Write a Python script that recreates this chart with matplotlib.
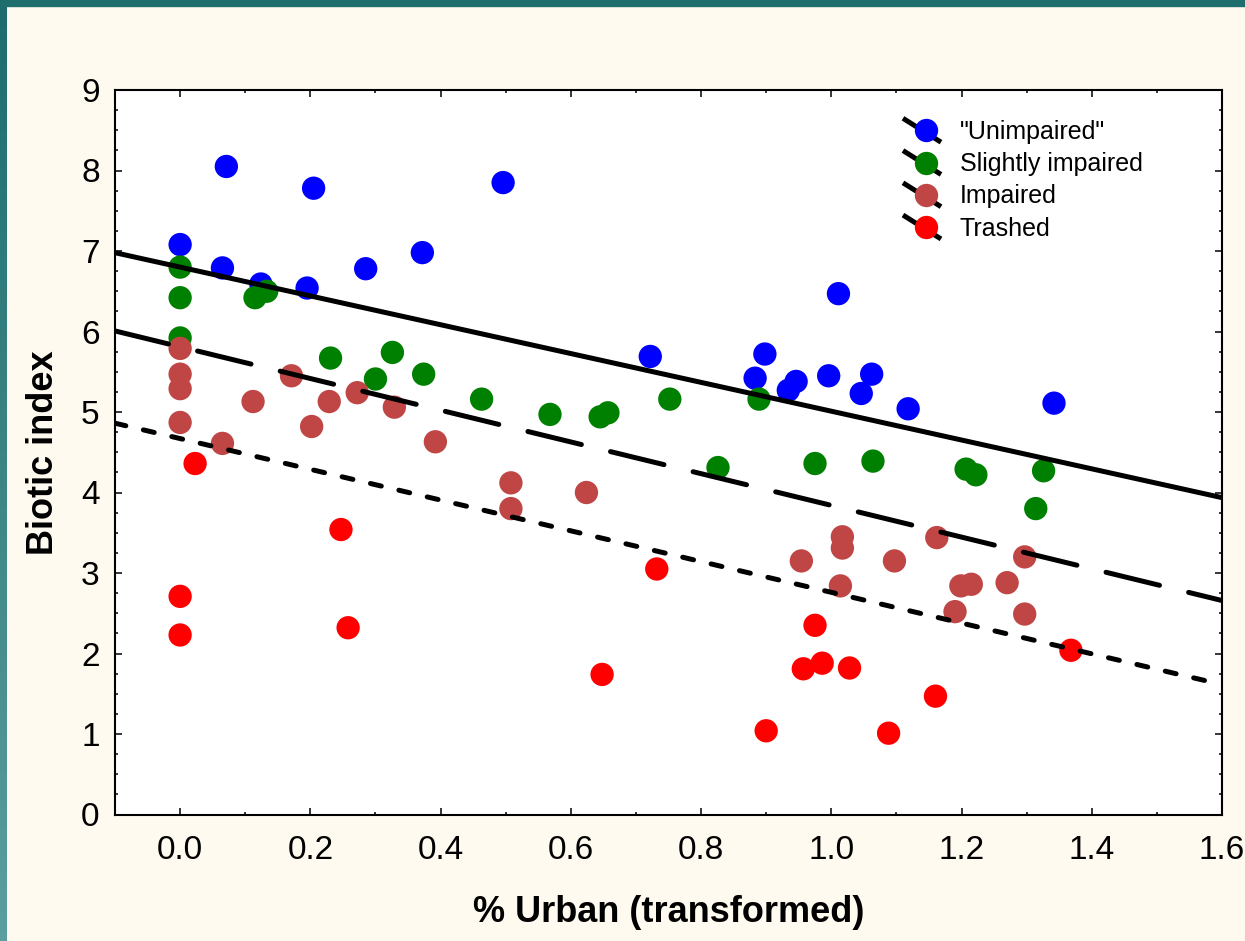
import numpy as np
import matplotlib
matplotlib.use("Agg")
import matplotlib.pyplot as plt
from matplotlib.lines import Line2D
from matplotlib.patches import Rectangle
from matplotlib.colors import LinearSegmentedColormap
from matplotlib.legend_handler import HandlerBase

plt.rcParams['font.family'] = ['Liberation Sans', 'DejaVu Sans']
plt.rcParams['lines.scale_dashes'] = False

# values
unimpaired_x = [0.071, 0.205, 0.0, 0.065, 0.124, 0.195, 0.285, 0.372, 0.496, 1.011,
                0.722, 0.898, 0.883, 0.946, 0.934, 0.996, 1.062, 1.046, 1.118, 1.342]
unimpaired_y = [8.05, 7.78, 7.08, 6.79, 6.59, 6.54, 6.78, 6.98, 7.85, 6.47,
                5.69, 5.72, 5.42, 5.38, 5.27, 5.45, 5.47, 5.23, 5.04, 5.11]

slight_x = [0.0, 0.0, 0.0, 0.115, 0.133, 0.231, 0.326, 0.300, 0.374, 0.463, 0.568,
            0.645, 0.657, 0.752, 0.889, 0.826, 0.975, 1.064, 1.207, 1.222, 1.326, 1.314]
slight_y = [6.80, 6.42, 5.92, 6.42, 6.50, 5.67, 5.74, 5.41, 5.47, 5.16, 4.97,
            4.94, 4.99, 5.16, 5.16, 4.31, 4.36, 4.39, 4.29, 4.22, 4.27, 3.80]

impaired_x = [0.0, 0.0, 0.0, 0.0, 0.112, 0.171, 0.229, 0.202, 0.272, 0.329, 0.392,
              0.065, 0.508, 0.508, 0.624, 0.954, 1.017, 1.017, 1.014, 1.162, 1.097,
              1.199, 1.215, 1.270, 1.297, 1.190, 1.297]
impaired_y = [5.79, 5.47, 5.29, 4.87, 5.13, 5.45, 5.13, 4.82, 5.24, 5.06, 4.63,
              4.61, 4.12, 3.80, 4.00, 3.15, 3.45, 3.31, 2.84, 3.44, 3.15,
              2.84, 2.86, 2.88, 3.20, 2.52, 2.49]

trashed_x = [0.023, 0.0, 0.0, 0.247, 0.258, 0.732, 0.648, 0.975, 0.957, 0.986,
             1.028, 0.900, 1.160, 1.088, 1.368]
trashed_y = [4.36, 2.71, 2.23, 3.54, 2.32, 3.05, 1.74, 2.35, 1.81, 1.88,
             1.82, 1.04, 1.47, 1.01, 2.04]

labels = ['"Unimpaired"', 'Slightly impaired', 'Impaired', 'Trashed']
colors = ['#0000FF', '#008000', '#C04646', '#FF0000']

# fitted lines: intercept, slope
fit_intercepts = [6.80, 5.81, 4.67]
fit_slopes = [-1.79, -1.97, -1.91]
fit_styles = ['-', (0, (39.6, 21.6)), (0, (8.0, 13.0))]

x_range = np.array([-0.1, 1.6])


class DiagHandler(HandlerBase):
    # marker with a short diagonal line behind it, like the original legend
    def create_artists(self, legend, orig_handle, xdescent, ydescent,
                       width, height, fontsize, trans):
        cy = height / 2 - ydescent
        x0 = -xdescent
        seg = Line2D([x0, x0 + width], [cy + 8.6, cy - 8.6], color='black',
                     lw=3.6, solid_capstyle='butt')
        dot = Line2D([x0 + 0.6 * width], [cy], marker='o', markersize=16.8,
                     markerfacecolor=orig_handle.get_facecolor()[0],
                     markeredgecolor='none', linestyle='none')
        seg.set_transform(trans)
        dot.set_transform(trans)
        return [seg, dot]


fig = plt.figure(figsize=(12.45, 9.41), dpi=100, facecolor='#FFFAEF')

# teal frame on top and left
fig.patches.append(Rectangle((0, 1 - 6 / 941), 1, 6 / 941, transform=fig.transFigure,
                             color='#1F6E6E', zorder=0))
bax = fig.add_axes([0, 0, 7 / 1245, 1])
bax.imshow(np.linspace(1, 0, 100).reshape(-1, 1), aspect='auto',
           cmap=LinearSegmentedColormap.from_list('teal', ['#5B9E9E', '#1E6C6C']))
bax.axis('off')

ax = fig.add_axes([115 / 1245, 1 - 814.5 / 941, (1222 - 115) / 1245, (814.5 - 90) / 941])
ax.set_facecolor('white')

handles = []
for xs, ys, c, lab in zip([unimpaired_x, slight_x, impaired_x, trashed_x],
                          [unimpaired_y, slight_y, impaired_y, trashed_y],
                          colors, labels):
    h = ax.scatter(xs, ys, s=282, color=c, edgecolors='none', label=lab, zorder=2)
    handles.append(h)

for a, b, ls in zip(fit_intercepts, fit_slopes, fit_styles):
    ax.plot(x_range, a + b * x_range, color='black', lw=3.6, linestyle=ls,
            dash_capstyle='round', zorder=3)

ax.set_xlim(-0.1, 1.6)
ax.set_ylim(0, 9)
ax.set_xticks(np.arange(0, 1.61, 0.2))
ax.set_xticks(np.arange(-0.1, 1.61, 0.1), minor=True)
ax.set_xticklabels([f"{v:.1f}" for v in np.arange(0, 1.61, 0.2)])
ax.set_yticks(range(0, 10))
ax.set_yticks(np.arange(0, 9.01, 0.25), minor=True)

ax.tick_params(which='both', direction='in', top=True, right=True, width=1.1)
ax.tick_params(which='major', length=5, labelsize=24)
ax.tick_params(axis='x', which='major', pad=15)
ax.tick_params(axis='y', which='major', pad=11)
ax.tick_params(which='minor', length=2.2)
for sp in ax.spines.values():
    sp.set_linewidth(1.5)

ax.set_xlabel('% Urban (transformed)', fontsize=26, fontweight='bold', labelpad=21)
ax.set_ylabel('Biotic index', fontsize=26, fontweight='bold', labelpad=14.5)

ax.legend(handles=handles, labels=labels, handler_map={h: DiagHandler() for h in handles},
          loc='upper left', bbox_to_anchor=(903 / 1245, 1 - 120 / 941),
          bbox_transform=fig.transFigure, frameon=False, fontsize=18,
          handlelength=1.52, handletextpad=0.76, labelspacing=0.33,
          borderpad=0, borderaxespad=0)

fig.savefig('out.png', dpi=100, facecolor=fig.get_facecolor())
